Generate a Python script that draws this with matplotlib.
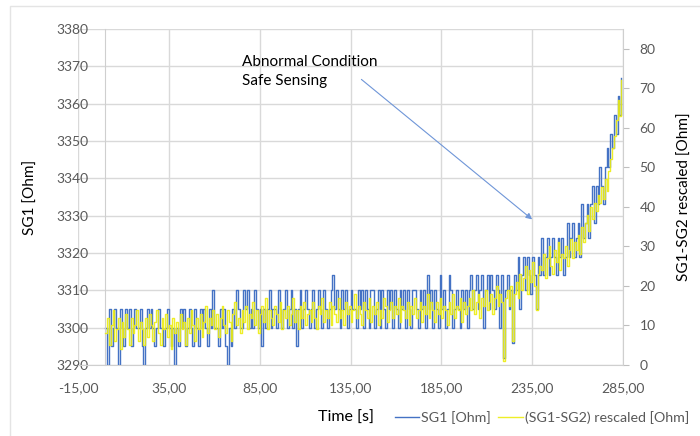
import matplotlib.pyplot as plt
from matplotlib.patches import Rectangle
from matplotlib.ticker import FuncFormatter, MultipleLocator
import numpy as np

plt.rcParams['font.family'] = ['Lato', 'DejaVu Sans']

# SG1 [Ohm], one reading per second
sg1 = [
    3300, 3290, 3305, 3295, 3300, 3305, 3300, 3290, 3305, 3300, 3295, 3305, 3300, 3305, 3295, 3300, 3305, 3300, 3300, 3305,
    3295, 3290, 3300, 3305, 3300, 3305, 3300, 3295, 3300, 3305, 3300, 3300, 3295, 3300, 3305, 3300, 3295, 3300, 3290, 3300,
    3295, 3305, 3300, 3305, 3295, 3300, 3305, 3300, 3295, 3305, 3300, 3295, 3305, 3300, 3305, 3300, 3295, 3305, 3300, 3310,
    3300, 3300, 3295, 3305, 3300, 3305, 3295, 3290, 3300, 3295, 3305, 3300, 3310, 3305, 3300, 3300, 3310, 3305, 3310, 3300,
    3305, 3300, 3310, 3305, 3300, 3305, 3295, 3305, 3300, 3305, 3310, 3300, 3305, 3305, 3300, 3310, 3305, 3300, 3305, 3310,
    3300, 3305, 3310, 3300, 3305, 3295, 3305, 3310, 3300, 3305, 3310, 3305, 3300, 3305, 3310, 3300, 3305, 3310, 3305, 3300,
    3310, 3305, 3300, 3305, 3310, 3314, 3305, 3310, 3305, 3300, 3310, 3305, 3310, 3300, 3305, 3310, 3305, 3305, 3300, 3310,
    3305, 3310, 3300, 3310, 3305, 3300, 3310, 3310, 3300, 3305, 3310, 3300, 3310, 3305, 3300, 3310, 3305, 3310, 3300, 3310,
    3305, 3300, 3310, 3305, 3310, 3300, 3310, 3305, 3300, 3310, 3310, 3305, 3300, 3310, 3305, 3310, 3300, 3314, 3305, 3310,
    3300, 3310, 3305, 3300, 3314, 3305, 3310, 3300, 3305, 3314, 3310, 3300, 3305, 3310, 3305, 3300, 3310, 3305, 3310, 3300,
    3310, 3314, 3305, 3310, 3314, 3305, 3310, 3314, 3300, 3310, 3314, 3305, 3314, 3310, 3305, 3314, 3310, 3300, 3314, 3292,
    3310, 3314, 3305, 3310, 3296, 3314, 3310, 3319, 3305, 3314, 3319, 3310, 3319, 3314, 3309, 3319, 3314, 3305, 3319, 3314,
    3324, 3314, 3319, 3324, 3314, 3319, 3324, 3319, 3314, 3324, 3319, 3324, 3314, 3319, 3328, 3319, 3324, 3328, 3319, 3324,
    3328, 3319, 3333, 3324, 3328, 3333, 3324, 3333, 3338, 3328,
    3338, 3333, 3343, 3338, 3333, 3343, 3348, 3343, 3352, 3348,
    3357, 3352, 3362, 3357, 3367,
]

# (SG1-SG2) rescaled [Ohm], same sampling
sg_diff = [
    8, 12, 5, 10, 14, 6, 9, 12, 4, 11, 7, 13, 9, 5, 12, 8, 10, 14, 6, 11,
    9, 5, 12, 7, 13, 10, 6, 11, 14, 8, 5, 12, 9, 13, 7, 10, 4, 12, 8, 11,
    6, 13, 9, 11, 5, 12, 8, 14, 10, 6, 12, 9, 13, 7, 11, 15, 8, 12, 10, 14,
    9, 13, 7, 12, 15, 10, 8, 14, 11, 6, 13, 16, 10, 12, 8, 14, 11, 15, 9, 13,
    12, 16, 10, 14, 8, 13, 15, 11, 17, 9, 14, 12, 10, 15, 13, 11, 16, 9, 14, 12,
    15, 10, 13, 17, 11, 14, 9, 15, 12, 16, 10, 13, 14, 11, 16, 12, 9, 15, 13, 17,
    11, 14, 12, 16, 10, 15, 13, 11, 17, 12, 14, 10, 16, 13, 15, 11, 14, 18, 12, 15,
    13, 10, 16, 14, 12, 17, 11, 15, 13, 16, 10, 14, 12, 17, 15, 11, 14, 16, 12, 15,
    13, 17, 11, 15, 14, 12, 16, 10, 15, 13, 17, 12, 14, 16, 11, 15, 13, 18, 12, 16,
    14, 11, 16, 13, 17, 12, 15, 14, 10, 16, 13, 18, 12, 15, 14, 17, 11, 16, 13, 15,
    17, 14, 19, 13, 16, 18, 12, 17, 15, 19, 14, 16, 18, 13, 17, 20, 15, 18, 16, 1,
    17, 19, 15, 20, 6, 18, 21, 17, 23, 19, 22, 25, 18, 24, 21, 26, 20, 14, 23, 25,
    24, 28, 22, 27, 30, 25, 23, 29, 26, 31, 24, 28, 27, 30, 25, 29, 32, 27, 31, 29,
    33, 28, 35, 31, 36, 38, 34, 40, 37, 41,
    39, 43, 41, 45, 42, 47, 44, 49, 52, 55,
    58, 62, 67, 63, 72,
]

time_s = np.arange(len(sg1))

x_ticks = [-15, 35, 85, 135, 185, 235, 285]

grey = '#595959'
grid = '#d9d9d9'

fig = plt.figure(figsize=(7, 4.36), dpi=100)
fig.patches.append(Rectangle((10 / 700, -0.05), 1.0, 1.05 - 6 / 436,
                             transform=fig.transFigure, fill=False,
                             edgecolor='#e4e4e4', lw=1))

ax = fig.add_axes([78 / 700, 71 / 436, 545 / 700, 336 / 436])
ax2 = ax.twinx()

ax.plot(time_s, sg1, color='#4472C4', lw=1.0, drawstyle='steps-post', label='SG1 [Ohm]')
ax2.plot(time_s, sg_diff, color='#EDED10', lw=1.0, alpha=0.9, drawstyle='steps-post',
         label='(SG1-SG2) rescaled [Ohm]')

ax.set_xlim(-15, 285)
ax.set_ylim(3290, 3380)
ax2.set_ylim(0, 85)

ax.set_xticks(x_ticks)
ax.xaxis.set_major_formatter(FuncFormatter(lambda v, p: f"{v:.2f}".replace('.', ',')))
ax.yaxis.set_major_locator(MultipleLocator(10))
ax2.yaxis.set_major_locator(MultipleLocator(10))

ax.grid(True, color=grid, lw=1)
ax.set_axisbelow(True)

for a in (ax, ax2):
    for s in a.spines.values():
        s.set_visible(False)
ax.spines['left'].set_visible(True)
ax.spines['left'].set_position(('data', 0))
ax.spines['left'].set_color('#cfcfcf')
ax.spines['bottom'].set_visible(True)
ax.spines['bottom'].set_color('#cfcfcf')
ax2.spines['right'].set_visible(True)
ax2.spines['right'].set_color('#cfcfcf')

ax.tick_params(axis='both', length=0, labelsize=10, colors=grey)
ax.tick_params(axis='y', pad=12)
ax.tick_params(axis='x', pad=12)
ax2.tick_params(axis='y', length=4, labelsize=10, colors=grey, pad=8)
ax2.tick_params(axis='y', color='#bfbfbf')

ax.set_ylabel('SG1 [Ohm]', fontsize=11)
ax.yaxis.set_label_coords(-0.074, 0.5)
ax2.set_ylabel('SG1-SG2 rescaled [Ohm]', fontsize=11)
ax2.yaxis.set_label_coords(1.1, 0.5)

ax.text(75, 3373, 'Abnormal Condition\nSafe Sensing', fontsize=11, va='top', ha='left',
        linespacing=1.45)
ax.annotate('', xy=(235, 3329), xytext=(141, 3366.5),
            arrowprops=dict(arrowstyle='-|>', color='#6f96d8', lw=0.8,
                            mutation_scale=9, shrinkA=0, shrinkB=0))

fig.text(318 / 700, 18 / 436, 'Time [s]', fontsize=11.5, va='center', ha='left')
h1, l1 = ax.get_legend_handles_labels()
h2, l2 = ax2.get_legend_handles_labels()
leg = fig.legend(h1 + h2, l1 + l2, loc='center left', bbox_to_anchor=(395 / 700, 18 / 436),
                 ncol=2, frameon=False, fontsize=10.3, handlelength=1.7,
                 handletextpad=0.15, columnspacing=0.5, borderaxespad=0, borderpad=0)
for t in leg.get_texts():
    t.set_color(grey)

fig.savefig('out.png', dpi=100)
